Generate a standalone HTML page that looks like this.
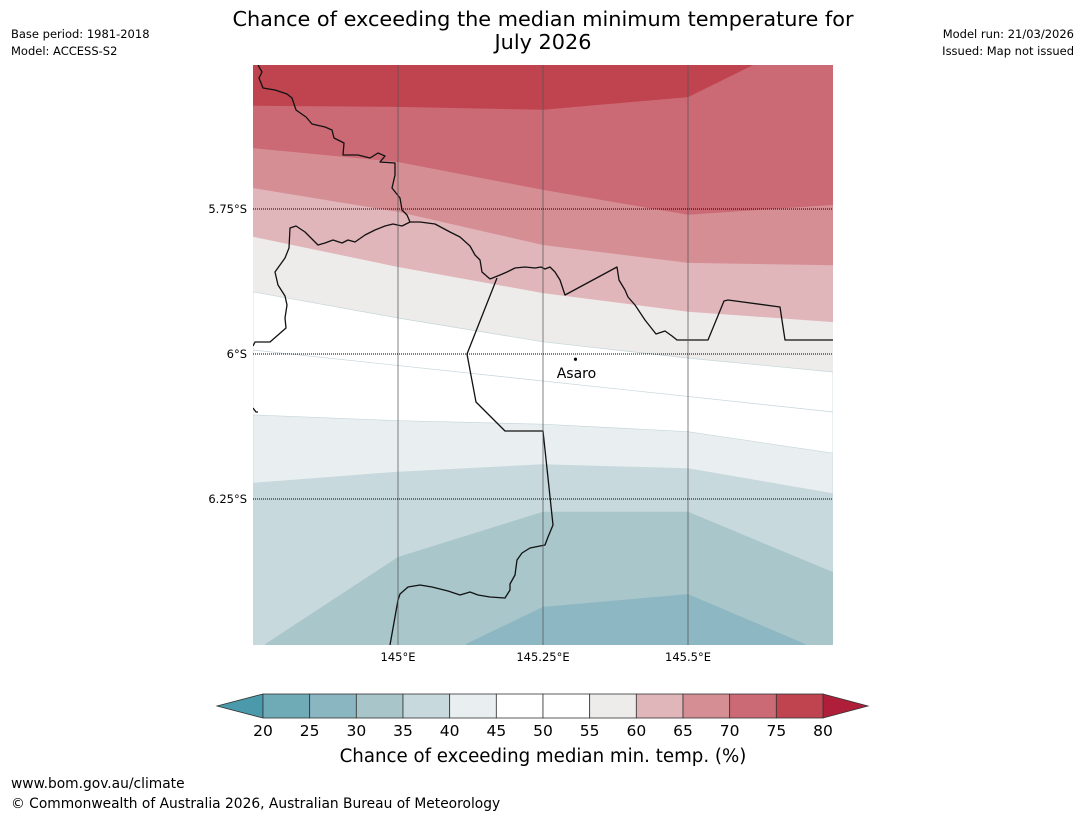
<!DOCTYPE html>
<html><head><meta charset="utf-8"><style>
body{margin:0;background:#fff;width:1085px;height:816px;overflow:hidden;font-family:"Liberation Sans","DejaVu Sans",sans-serif}
svg{position:absolute;left:0;top:0}
</style></head><body>
<svg id="chart" width="1085" height="816" viewBox="0 0 1085 816">
<text x="543" y="26" font-size="20.8" text-anchor="middle" font-family="DejaVu Sans, sans-serif">Chance of exceeding the median minimum temperature for</text>
<text x="543" y="49" font-size="20.8" text-anchor="middle" font-family="DejaVu Sans, sans-serif">July 2026</text>
<g font-size="11.5" font-family="DejaVu Sans, sans-serif">
<text x="11" y="38">Base period: 1981-2018</text>
<text x="11" y="55">Model: ACCESS-S2</text>
<text x="1074" y="38" text-anchor="end">Model run: 21/03/2026</text>
<text x="1074" y="55" text-anchor="end">Issued: Map not issued</text>
</g>
<defs><clipPath id="mapclip"><rect x="253" y="65" width="580" height="580"/></clipPath></defs>
<g id="map" clip-path="url(#mapclip)"></g>
<g id="overlay"></g>
<g id="colorbar"></g>
<text x="543" y="762" font-size="18.2" text-anchor="middle" font-family="DejaVu Sans, sans-serif">Chance of exceeding median min. temp. (%)</text>
<g font-size="13.8" font-family="DejaVu Sans, sans-serif">
<text x="11" y="788">www.bom.gov.au/climate</text>
<text x="11" y="808">© Commonwealth of Australia 2026, Australian Bureau of Meteorology</text>
</g>
</svg>
<script>
// ---- data ----
const lonTicks=[145,145.25,145.5];
const lonTickLabels=["145°E","145.25°E","145.5°E"];
const latTicks=[5.75,6,6.25];
const latTickLabels=["5.75°S","6°S","6.25°S"];
const levels=[20,25,30,35,40,45,50,55,60,65,70,75,80];
const levelColors=["#6eabb7","#8ab6c2","#a8c5ca","#c7d9dd","#e9eff1","#ffffff","#ffffff","#eeecea","#e1b6bb","#d68e95","#cb6a74","#c0444f"];
const underColor="#4a9aab", overColor="#b01f3a";
const topBandColor="#c0444f";
// contour boundaries: [lon, latS] points; region below filled with color
const boundaryColors=["#cb6a74","#d68e95","#e1b6bb","#eeecea","#ffffff","#e9eff1","#c7d9dd","#a9c6cb","#8cb7c3"];
const b1=[[144.75,5.572],[145,5.574],[145.25,5.579],[145.5,5.557],[145.616,5.5],[145.75,5.5]];
const b2=[[144.75,5.645],[145,5.669],[145.25,5.717],[145.5,5.76],[145.75,5.743]];
const b3=[[144.75,5.714],[145,5.755],[145.25,5.812],[145.5,5.843],[145.75,5.847]];
const b4=[[144.75,5.798],[145,5.850],[145.25,5.895],[145.5,5.927],[145.75,5.945]];
const b5=[[144.75,5.893],[145,5.938],[145.25,5.979],[145.5,6.007],[145.75,6.031]];
const b6=[[144.75,6.105],[145,6.115],[145.25,6.121],[145.5,6.134],[145.75,6.171]];
const b7=[[144.75,6.222],[145,6.203],[145.25,6.190],[145.5,6.197],[145.75,6.240]];
const b8=[[144.771,6.5],[145,6.350],[145.25,6.272],[145.5,6.272],[145.75,6.376],[145.75,6.5]];
const b9=[[145.117,6.5],[145.25,6.436],[145.5,6.414],[145.702,6.5]];
const boundaries=[b1,b2,b3,b4,b5,b6,b7,b8,b9];
const town={name:"Asaro",lon:145.306,lat:6.009};

// ---- scales ----
const X0=253,X1=833,Y0=65,Y1=645;
const xs=lon=>398+(lon-145)*580;
const ys=lat=>354+(lat-6)*580;
const NS="http://www.w3.org/2000/svg";
function mk(tag,attrs,parent){const e=document.createElementNS(NS,tag);for(const k in attrs)e.setAttribute(k,attrs[k]);parent.appendChild(e);return e;}
const map=document.getElementById('map');
const ov=document.getElementById('overlay');
let r=mk('rect',{x:X0,y:Y0,width:580,height:580,fill:topBandColor},map);


boundaries.forEach((b,i)=>{
  let pts=b.map(p=>xs(p[0]).toFixed(1)+','+ys(p[1]).toFixed(1));
  const first=b[0],last=b[b.length-1];
  pts.push(xs(last[0])+','+(Y1+2));
  pts.push(xs(first[0])+','+(Y1+2));
  const p=mk('polygon',{points:pts.join(' '),fill:boundaryColors[i],stroke:i>=4&&i<=5?'#c5d6da':'none','stroke-width':0.7},map);
  
  
});
let fl=mk('line',{x1:X0,y1:350,x2:X1,y2:412,stroke:'#c5d6da','stroke-width':0.7},map);


// coastline / border
const coastN="M258,65 L262,72 L259,78 L263,88 L275,90 L287,94 L292,98 L296,110 L306,117 L312,124 L325,127 L332,130 L334,138 L344,143 L343,155 L358,155 L370,158 L378,153 L385,156 L380,162 L395,163 L395,175 L392,188 L400,198 L402,210 L407,215 L410,222 L420,222 L435,224 L450,232 L460,237 L470,246 L475,255 L480,260 L482,272 L490,279";
const coastW="M253,346 L255,342 L270,342 L286,328 L285,318 L287,305 L285,296 L278,285 L275,272 L285,258 L289,248 L290,228 L296,226 L305,232 L313,240 L318,245 L325,243 L333,240 L342,243 L348,240 L355,242 L365,235 L375,230 L385,226 L393,224 L402,226 L410,222";
const coastE="M490,279 L500,275 L507,272 L515,268 L525,267 L535,268 L541,267 L545,269 L550,267 L555,272 L560,280 L565,295 L617,267 L619,280 L625,290 L628,297 L635,305 L645,320 L656,334 L665,331 L672,336 L677,340 L708,340 L724,301 L728,300 L780,307 L785,340 L833,340";
const border="M497,278 L467,354 L476,402 L505,431 L543,431 L553,525 L548,537 L545,545 L530,548 L522,553 L517,560 L515,575 L510,584 L510,590 L505,598 L490,597 L478,595 L470,592 L460,595 L448,591 L432,587 L420,585 L408,587 L400,594 L398,600 L390,645";
const leftBit="M253,408 L256,412 L258,412";
[[coastN,'coastline-north'],[coastW,'coastline-west'],[coastE,'coastline-east'],[border,'coastline-south-border'],[leftBit,'coastline-fragment']].forEach(([d,n])=>{
  const p=mk('path',{d:d,fill:'none',stroke:'#111','stroke-width':1.3,'stroke-linejoin':'round'},map);
  
  
});
// gridlines
lonTicks.forEach((lon,i)=>{
  const l=mk('line',{x1:xs(lon),y1:Y0,x2:xs(lon),y2:Y1,stroke:'#555','stroke-opacity':0.75,'stroke-width':1},map);
  
  
  const t=mk('text',{x:xs(lon),y:661,'font-size':11.5,'text-anchor':'middle','font-family':'DejaVu Sans, sans-serif'},ov);
  t.textContent=lonTickLabels[i];
  
  
});
latTicks.forEach((lat,i)=>{
  const l=mk('line',{x1:X0,y1:ys(lat),x2:X1,y2:ys(lat),stroke:'#000','stroke-width':1,'stroke-dasharray':'1,1'},map);
  
  
  const t=mk('text',{x:247,y:ys(lat)+4,'font-size':11.5,'text-anchor':'end','font-family':'DejaVu Sans, sans-serif'},ov);
  t.textContent=latTickLabels[i];
  
  
});
// town
const d=mk('circle',{cx:xs(town.lon),cy:ys(town.lat),r:1.6,fill:'#000'},ov);


const tt=mk('text',{x:xs(town.lon)+1,y:ys(town.lat)+19,'font-size':14,'text-anchor':'middle','font-family':'DejaVu Sans, sans-serif'},ov);
tt.textContent=town.name;


// colorbar
const cb=document.getElementById('colorbar');
const CB0=263,CB1=823,CBY=694,CBH=24;
const cw=(CB1-CB0)/(levels.length-1);
let u=mk('polygon',{points:`${CB0},${CBY} 217,${CBY+CBH/2} ${CB0},${CBY+CBH}`,fill:underColor,stroke:'#333','stroke-width':0.8},cb);


let o=mk('polygon',{points:`${CB1},${CBY} 868,${CBY+CBH/2} ${CB1},${CBY+CBH}`,fill:overColor,stroke:'#333','stroke-width':0.8},cb);


levelColors.forEach((c,i)=>{
  const b=mk('rect',{x:CB0+i*cw,y:CBY,width:cw,height:CBH,fill:c,stroke:'#333','stroke-width':0.8},cb);
  
  
});
levels.forEach((v,i)=>{
  const t=mk('text',{x:CB0+i*cw,y:736,'font-size':15.5,'text-anchor':'middle','font-family':'DejaVu Sans, sans-serif'},cb);
  t.textContent=v;
  
  
});
</script>
</body></html>
